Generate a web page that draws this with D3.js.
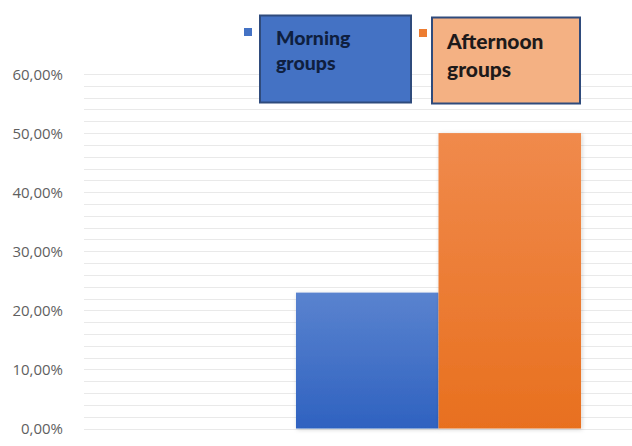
<!DOCTYPE html>
<html><head><meta charset="utf-8">
<script src="https://cdn.jsdelivr.net/npm/d3@7/dist/d3.min.js"></script>
<style>html,body{margin:0;padding:0;background:#fff;}svg{display:block;}</style>
</head><body><svg id="c" width="632" height="446"></svg>
<script>
const categories = [""];
const seriesNames = ["Morning groups", "Afternoon groups"];
const morningValues = [0.23];
const afternoonValues = [0.50];
const yTicks = [0, 0.1, 0.2, 0.3, 0.4, 0.5, 0.6];
const yTickLabels = ["0,00%", "10,00%", "20,00%", "30,00%", "40,00%", "50,00%", "60,00%"];
const legendLines = [["Morning", "groups"], ["Afternoon", "groups"]];

(function(){
const svg = d3.select("#c");
const W = 632, H = 446;
const mLeft = 84, plotRight = 793, mTop = 74, mBottom = 428.5;

const defs = svg.append("defs");
const gB = defs.append("linearGradient").attr("id","gb").attr("x1",0).attr("y1",0).attr("x2",0).attr("y2",1);
gB.append("stop").attr("offset","0%").attr("stop-color","#5a83cf");
gB.append("stop").attr("offset","100%").attr("stop-color","#2f62c0");
const gO = defs.append("linearGradient").attr("id","go").attr("x1",0).attr("y1",0).attr("x2",0).attr("y2",1);
gO.append("stop").attr("offset","0%").attr("stop-color","#f08a4c");
gO.append("stop").attr("offset","100%").attr("stop-color","#e8701f");
const f = defs.append("filter").attr("id","sh").attr("x","-10%").attr("y","-10%").attr("width","120%").attr("height","120%");
f.append("feDropShadow").attr("dx",1).attr("dy",1).attr("stdDeviation",2).attr("flood-color","#000").attr("flood-opacity",0.18);

const y = d3.scaleLinear().domain([0, 0.6]).range([mBottom, mTop]);
const x0 = d3.scaleBand().domain(categories).range([mLeft, plotRight]).paddingInner(0.4265).paddingOuter(0.4265);
const x1 = d3.scaleBand().domain(seriesNames).range([0, x0.bandwidth()]);

// gridlines (major + minor every 2%)
const minor = d3.range(0, 61, 2).map(v => v / 100);
svg.append("g").selectAll("line").data(minor).join("line")
  .attr("x1", mLeft).attr("x2", W)
  .attr("y1", d => Math.round(y(d)) + 0.5).attr("y2", d => Math.round(y(d)) + 0.5)
  .attr("stroke", "#e9e9e9").attr("stroke-width", 1);

// y axis labels
const yAxis = d3.axisLeft(y).tickValues(yTicks).tickFormat((d, i) => yTickLabels[i]).tickSize(0).tickPadding(0);
const ga = svg.append("g").attr("transform", `translate(63,0)`).call(yAxis);
ga.select(".domain").remove();
ga.selectAll("text").attr("font-family", "'Open Sans', sans-serif").attr("font-size", 15).attr("fill", "#5f5f5f").attr("dy", "0.36em");

// bars
const data = [
  {cat: categories[0], name: seriesNames[0], v: morningValues[0], fill: "url(#gb)"},
  {cat: categories[0], name: seriesNames[1], v: afternoonValues[0], fill: "url(#go)"}
];
svg.append("g").selectAll("rect").data(data).join("rect")
  .attr("x", d => x0(d.cat) + x1(d.name))
  .attr("width", x1.bandwidth())
  .attr("y", d => y(d.v))
  .attr("height", d => y(0) - y(d.v))
  .attr("fill", d => d.fill)
  .attr("filter", "url(#sh)");

// legend
const legend = [
  {mx: 244, my: 28, bx: 260, by: 15.5, bw: 151, bh: 87, fill: "#4472c4", marker: "#4472c4", tx: 276, ty: 45, fs: 19.5, lh: 25, tc: "#0f1f3f"},
  {mx: 419, my: 29, bx: 432, by: 17.5, bw: 148, bh: 86, fill: "#f4b183", marker: "#ed7d31", tx: 447, ty: 48.5, fs: 21, lh: 28, tc: "#1e1a1a"}
];
legend.forEach((L, i) => {
  svg.append("rect").attr("x", L.mx).attr("y", L.my).attr("width", 8).attr("height", 8).attr("fill", L.marker);
  svg.append("rect").attr("x", L.bx).attr("y", L.by).attr("width", L.bw).attr("height", L.bh)
    .attr("fill", L.fill).attr("stroke", "#2f4b7c").attr("stroke-width", 2);
  const t = svg.append("text").attr("x", L.tx).attr("y", L.ty)
    .attr("font-family", "Lato, 'Open Sans', sans-serif").attr("font-weight", 900)
    .attr("font-size", L.fs).attr("fill", L.tc);
  legendLines[i].forEach((s, j) => {
    t.append("tspan").attr("x", L.tx).attr("dy", j === 0 ? 0 : L.lh).text(s);
  });
});
})();
</script></body></html>
